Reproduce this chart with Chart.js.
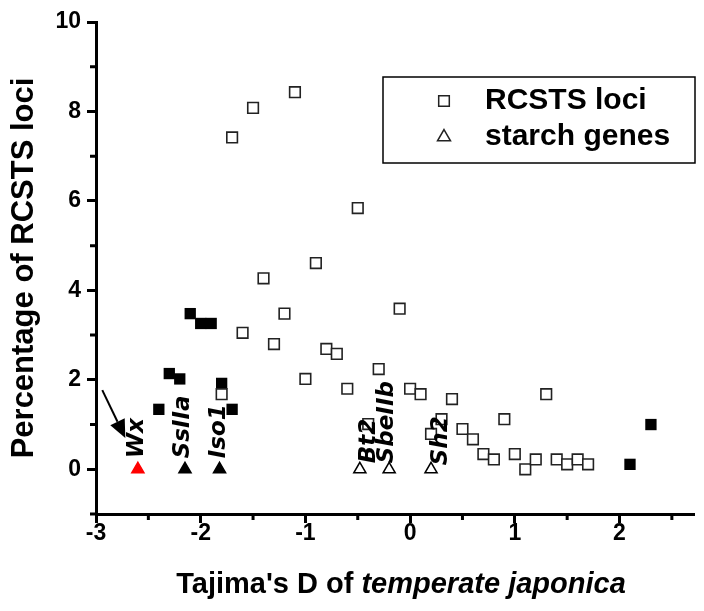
<!DOCTYPE html>
<html lang="en">
<head>
    <meta charset="UTF-8">
    <title>Tajima's D of temperate japonica</title>
    <script src="https://cdn.jsdelivr.net/npm/chart.js"></script>
    <style>
        html, body { margin: 0; padding: 0; background: #fff; }
        #wrap { width: 704px; height: 611px; }
    </style>
</head>
<body>
<div id="wrap"><canvas id="chart" width="704" height="611"></canvas></div>
<script>
// RCSTS loci (open squares)
const rcstsX = [-1.7, -1.5, -1.1, -0.5, -0.9, -1.4, -1.2, -0.1, -1.6, -1.3, -0.8, -0.7, -1.0, -0.6, -0.3, -1.8,
                0.0, 0.1, 0.4, -0.4, 0.3, 0.2, 0.5, 0.6, 0.9, 1.3, 0.7, 0.8, 1.0, 1.1, 1.2, 1.4, 1.5, 1.6, 1.7];
const rcstsY = [7.42, 8.08, 8.43, 5.84, 4.61, 4.27, 3.48, 3.59, 3.05, 2.80, 2.69, 2.58, 2.02, 1.80, 2.24, 1.68,
                1.80, 1.68, 1.57, 1.01, 1.12, 0.79, 0.90, 0.67, 1.12, 1.68, 0.34, 0.22, 0.34, 0.00, 0.22, 0.22, 0.11, 0.22, 0.11];

// RCSTS loci drawn as filled squares
const rcstsFilledX = [-2.1, -2.0, -1.9, -2.3, -2.2, -2.4, -1.8, -1.7, 2.1, 2.3];
const rcstsFilledY = [3.48, 3.26, 3.26, 2.14, 2.02, 1.34, 1.92, 1.34, 0.11, 1.00];

// starch genes (triangles)
const geneNames = ['Wx', 'SsIIa', 'Iso1', 'Bt2', 'SbeIIb', 'Sh2'];
const geneX = [-2.6, -2.15, -1.82, -0.48, -0.2, 0.2];
const geneY = [0, 0, 0, 0, 0, 0];
const geneFill = ['#ff0000', '#000000', '#000000', '#ffffff', '#ffffff', '#ffffff'];
const geneBorder = ['#ff0000', '#000000', '#000000', '#000000', '#000000', '#000000'];

// axis ticks
const xTicks = [-3, -2, -1, 0, 1, 2];
const xMinorTicks = [-2.5, -1.5, -0.5, 0.5, 1.5, 2.5];
const yTicks = [0, 2, 4, 6, 8, 10];
const yMinorTicks = [-1, 1, 3, 5, 7, 9];

// arrow pointing at Wx (data units)
const wxArrow = { from: [-2.94, 1.77], to: [-2.72, 0.70] };

// label nudges in pixels (dx, dy) for the gene names
const geneLabelDx = [-1, -2, -1, 9, -2, 10];
const geneLabelDy = [-11, -11, -11, -6, -6, -4];

const toPoints = (xs, ys) => xs.map((x, i) => ({ x: x, y: ys[i] }));

Chart.defaults.font.family = '"Liberation Sans", Arial, sans-serif';
Chart.defaults.color = '#000';

const extras = {
    id: 'extras',
    afterDatasetsDraw(chart) {
        const ctx = chart.ctx;
        const xs = chart.scales.x, ys = chart.scales.y;

        // gene names, rotated
        ctx.save();
        ctx.fillStyle = '#000';
        ctx.font = 'italic bold 23px "DejaVu Sans"';
        ctx.textAlign = 'left';
        ctx.textBaseline = 'middle';
        geneNames.forEach((name, i) => {
            const px = xs.getPixelForValue(geneX[i]) + geneLabelDx[i];
            const py = ys.getPixelForValue(geneY[i]) + geneLabelDy[i];
            ctx.save();
            ctx.translate(px, py);
            ctx.rotate(-Math.PI / 2);
            ctx.fillText(name, 0, 0);
            ctx.restore();
        });
        ctx.restore();

        // arrow
        const x1 = xs.getPixelForValue(wxArrow.from[0]), y1 = ys.getPixelForValue(wxArrow.from[1]);
        const x2 = xs.getPixelForValue(wxArrow.to[0]), y2 = ys.getPixelForValue(wxArrow.to[1]);
        const ang = Math.atan2(y2 - y1, x2 - x1);
        const head = 18, half = 8;
        ctx.save();
        ctx.strokeStyle = '#000';
        ctx.fillStyle = '#000';
        ctx.lineWidth = 2;
        ctx.beginPath();
        ctx.moveTo(x1, y1);
        ctx.lineTo(x2 - Math.cos(ang) * head, y2 - Math.sin(ang) * head);
        ctx.stroke();
        ctx.beginPath();
        ctx.moveTo(x2, y2);
        ctx.lineTo(x2 - Math.cos(ang) * head - Math.sin(ang) * half, y2 - Math.sin(ang) * head + Math.cos(ang) * half);
        ctx.lineTo(x2 - Math.cos(ang) * head + Math.sin(ang) * half, y2 - Math.sin(ang) * head - Math.cos(ang) * half);
        ctx.closePath();
        ctx.fill();
        ctx.restore();
    },
    afterDraw(chart) {
        const ctx = chart.ctx;
        const xs = chart.scales.x, ys = chart.scales.y;
        const area = chart.chartArea;

        // minor ticks
        ctx.save();
        ctx.strokeStyle = '#000';
        ctx.lineWidth = 3;
        ctx.beginPath();
        xMinorTicks.forEach(v => {
            const px = xs.getPixelForValue(v);
            if (px > area.right) return;
            ctx.moveTo(px, area.bottom);
            ctx.lineTo(px, area.bottom + 6);
        });
        yMinorTicks.forEach(v => {
            const py = ys.getPixelForValue(v);
            ctx.moveTo(area.left - 6, py);
            ctx.lineTo(area.left, py);
        });
        ctx.stroke();
        ctx.restore();

        // x axis title with italic part
        ctx.save();
        ctx.fillStyle = '#000';
        ctx.textBaseline = 'middle';
        const partA = "Tajima's D of ";
        const partB = 'temperate japonica';
        const fA = 'bold 29px "Liberation Sans", Arial, sans-serif';
        const fB = 'italic bold 29px "Liberation Sans", Arial, sans-serif';
        ctx.font = fA;
        const wA = ctx.measureText(partA).width;
        ctx.font = fB;
        const wB = ctx.measureText(partB).width;
        const cx = 401;
        const startX = cx - (wA + wB) / 2;
        ctx.font = fA;
        ctx.textAlign = 'left';
        ctx.fillText(partA, startX, 585);
        ctx.font = fB;
        ctx.fillText(partB, startX + wA, 585);
        ctx.restore();

        // legend box
        const lx = 383, ly = 77, lw = 312, lh = 86;
        ctx.save();
        ctx.strokeStyle = '#000';
        ctx.lineWidth = 1.5;
        ctx.strokeRect(lx, ly, lw, lh);
        const items = [
            { ds: chart.data.datasets[1], y: ly + 24 },
            { ds: chart.data.datasets[0], y: ly + 60 }
        ];
        items.forEach(it => {
            ctx.fillStyle = '#fff';
            ctx.strokeStyle = '#222';
            ctx.lineWidth = 1.5;
            Chart.helpers.drawPoint(ctx, { pointStyle: it.ds.pointStyle, radius: 7.5, borderWidth: 1.5, rotation: 0 }, lx + 61, it.y);
            ctx.fillStyle = '#000';
            ctx.font = 'bold 30px "Liberation Sans", Arial, sans-serif';
            ctx.textAlign = 'left';
            ctx.textBaseline = 'middle';
            ctx.fillText(it.ds.label, lx + 102, it.y);
        });
        ctx.restore();
    }
};

new Chart(document.getElementById('chart'), {
    type: 'scatter',
    data: {
        datasets: [
            {
                label: 'starch genes',
                data: toPoints(geneX, geneY),
                pointStyle: 'triangle',
                pointRadius: 7,
                backgroundColor: geneFill,
                borderColor: geneBorder,
                borderWidth: 1.5
            },
            {
                label: 'RCSTS loci',
                data: toPoints(rcstsX, rcstsY),
                pointStyle: 'rect',
                pointRadius: 7.5,
                backgroundColor: '#ffffff',
                borderColor: '#222222',
                borderWidth: 1.6
            },
            {
                label: 'RCSTS loci (filled)',
                data: toPoints(rcstsFilledX, rcstsFilledY),
                pointStyle: 'rect',
                pointRadius: 8,
                backgroundColor: '#000000',
                borderColor: '#000000',
                borderWidth: 0
            }
        ]
    },
    options: {
        responsive: false,
        animation: false,
        layout: { padding: { top: 22, right: 0, left: 0, bottom: 0 } },
        plugins: {
            legend: { display: false },
            tooltip: { enabled: false }
        },
        scales: {
            x: {
                type: 'linear',
                min: -3,
                max: 2.72,
                afterFit: s => { s.height = 97; },
                afterBuildTicks: s => { s.ticks = xTicks.map(v => ({ value: v })); },
                border: { color: '#000', width: 3 },
                grid: { drawOnChartArea: false, drawTicks: true, tickLength: 9, tickWidth: 3, tickColor: '#000' },
                ticks: { font: { size: 23, weight: 'bold' }, padding: -3, maxRotation: 0 }
            },
            y: {
                type: 'linear',
                min: -1,
                max: 10,
                afterFit: s => { s.width = 96; },
                afterBuildTicks: s => { s.ticks = yTicks.map(v => ({ value: v })); },
                border: { color: '#000', width: 3 },
                grid: { drawOnChartArea: false, drawTicks: true, tickLength: 9, tickWidth: 3, tickColor: '#000' },
                ticks: { font: { size: 23, weight: 'bold' }, padding: 6 },
                title: {
                    display: true,
                    text: 'Percentage of RCSTS loci',
                    font: { size: 31, weight: 'bold' },
                    padding: { top: 6, bottom: 0 }
                }
            }
        }
    },
    plugins: [extras]
});
</script>
</body>
</html>
